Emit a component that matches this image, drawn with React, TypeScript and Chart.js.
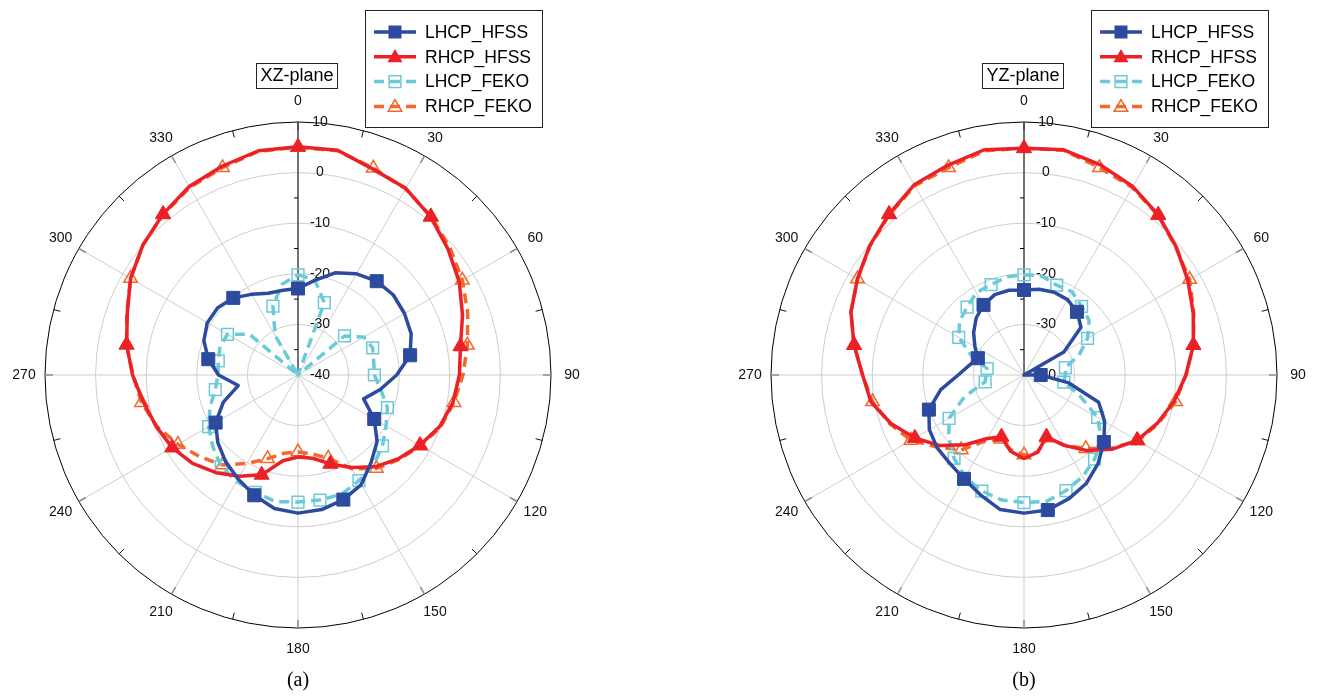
import React, { useEffect, useRef } from 'react';
import { Chart, registerables } from 'chart.js';

Chart.register(...registerables);

// Angular positions of the samples (degrees, clockwise from top)
const angleLabels = [
  0, 10, 20, 30, 40, 50, 60, 70, 80, 90, 100, 110,
  120, 130, 140, 150, 160, 170, 180, 190, 200, 210, 220, 230,
  240, 250, 260, 270, 280, 290, 300, 310, 320, 330, 340, 350,
];

// Angle ticks printed around the rim, and radial ticks (dB)
const angleTickLabels = [0, 30, 60, 90, 120, 150, 180, 210, 240, 270, 300, 330];
const radialTicks = [10, 0, -10, -20, -30, -40];

// XZ-plane gain (dB)
const xzLhcpHfss = [
  -22.9, -21, -18.5, -16.9, -15.8, -15.4, -15.7, -16.2, -17.5, -20.5, -23.5, -26.2,
  -22.6, -19.6, -17.5, -15, -13.8, -13, -12.7, -13.2, -14.7, -16.3, -17.7, -19.3,
  -21.2, -24.3, -28, -24.3, -22, -20.2, -19.3, -19.3, -20.1, -21.6, -22.8, -23,
];
const xzRhcpHfss = [
  5.1, 5.1, 3.3, 2.6, 0.8, -1.3, -3.2, -5.4, -7.4, -8.1, -8.9, -10.2,
  -12.2, -14.2, -16.3, -18.9, -21.3, -23.3, -23.8, -22.8, -19, -16.9, -14.8, -12.8,
  -11.3, -10.2, -9, -7.3, -5.6, -4.1, -1.8, 0, 1.5, 3, 3.9, 5,
];
const xzLhcpFeko = [
  -20.2, -20.9, -24.8, -40, -40, -28, -25, -24.3, -24.8, -24.9, -23.4, -21.2,
  -19.9, -18.2, -16.8, -15.9, -14.9, -14.9, -14.9, -14.6, -15.3, -15.7, -16.4, -18,
  -19.6, -21.5, -23.4, -24.2, -24, -23.6, -23.9, -27.5, -40, -31, -25.5, -21.8,
];
const xzRhcpFeko = [
  5, 5, 3.5, 2.5, 0.9, -0.8, -2.5, -4.3, -6, -7.4, -8.7, -10,
  -12, -14, -15.9, -18.6, -22.5, -24.2, -24.8, -24.3, -22.4, -19.8, -16.8, -14.8,
  -12.6, -10.3, -8.6, -7.4, -5.6, -4, -1.8, 0, 1.4, 2.8, 3.6, 4.9,
];

// YZ-plane gain (dB)
const yzLhcpHfss = [
  -23.2, -22.8, -22.6, -22.8, -23.7, -25.3, -30.9, -40, -40, -36.7, -31, -24.3,
  -21.6, -19.4, -17.2, -15.3, -14, -12.9, -12.7, -13, -14.8, -16.3, -17.2, -17.6,
  -18.4, -20, -23.3, -27, -29, -30.3, -28.8, -27, -25.3, -24, -23.1, -23,
];
const yzRhcpHfss = [
  4.8, 5.2, 4.2, 3, 1.3, -0.7, -2.6, -4.4, -6, -8, -9.9, -12,
  -14.2, -17.2, -20.5, -23.9, -27, -24.5, -23.5, -24.7, -27, -25.5, -22, -18.3,
  -15.1, -12, -9.3, -8.1, -5.9, -3.6, -2, -0.2, 1.5, 3.4, 4.1, 5.2,
];
const yzLhcpFeko = [
  -20.2, -20.1, -21.1, -21, -22.3, -23.2, -25.5, -28.4, -31.7, -31.8, -32, -28.4,
  -23.2, -20, -18.3, -16.8, -15.7, -14.6, -14.8, -14.9, -15.6, -16.7, -18.5, -20.6,
  -22.9, -27.5, -32.2, -32.5, -32.6, -29, -25.1, -23.4, -22.5, -21.2, -21, -20.3,
];
const yzRhcpFeko = [
  4.8, 5.1, 3.6, 2.8, 1.2, -0.8, -2.2, -4.3, -6, -8, -9.6, -11.8,
  -14, -17.5, -21, -24, -26.8, -24.5, -24.2, -25, -26.5, -25, -20.7, -17.8,
  -14.2, -11.8, -9.6, -8.1, -5.9, -3.6, -2, -0.3, 1.4, 3.2, 3.6, 5,
];

// Angles carrying a marker symbol, per trace
const xzMarksLhcpHfss = [0, 40, 80, 120, 160, 200, 240, 280, 320];
const xzMarksRhcpHfss = [0, 40, 80, 120, 160, 200, 240, 280, 320];
const xzMarksLhcpFeko = [0, 20, 50, 70, 90, 110, 130, 150, 170, 180, 200, 220, 240, 260, 280, 300, 340];
const xzMarksRhcpFeko = [0, 20, 40, 60, 80, 100, 120, 140, 160, 180, 200, 220, 240, 260, 280, 300, 320, 340];
const yzMarksLhcpHfss = [0, 40, 90, 130, 170, 210, 250, 290, 330];
const yzMarksRhcpHfss = [0, 40, 80, 120, 160, 200, 240, 280, 320];
const yzMarksLhcpFeko = [0, 20, 40, 60, 80, 100, 120, 140, 160, 180, 200, 220, 240, 260, 280, 300, 320, 340];
const yzMarksRhcpFeko = [0, 20, 40, 60, 80, 100, 120, 140, 160, 180, 200, 220, 240, 260, 280, 300, 320, 340];

const seriesNames = ['LHCP_HFSS', 'RHCP_HFSS', 'LHCP_FEKO', 'RHCP_FEKO'];

const BLUE = '#2c4a9e';
const RED = '#ec2027';
const CYAN = '#6ccad8';
const ORANGE = '#f2682a';
const SANS = '"Liberation Sans", Arial, sans-serif';

const CANVAS_W = 595;
const CANVAS_H = 696;

type Series = {
  data: number[][];
  marks: number[][];
};

function markerRadius(list: number[], r: number) {
  return (c: any) => (list.includes(angleLabels[c.dataIndex]) ? r : 0);
}

function buildDatasets(s: Series) {
  const [lh, rh, lf, rf] = s.data;
  const [mlh, mrh, mlf, mrf] = s.marks;
  return [
    {
      label: seriesNames[0], data: lh, borderColor: BLUE, backgroundColor: BLUE,
      borderWidth: 3.5, borderJoinStyle: 'round', pointStyle: 'rect',
      pointRadius: markerRadius(mlh, 9.2), pointBackgroundColor: BLUE,
      pointBorderColor: BLUE, pointBorderWidth: 1, fill: false, tension: 0,
    },
    {
      label: seriesNames[1], data: rh, borderColor: RED, backgroundColor: RED,
      borderWidth: 3.5, borderJoinStyle: 'round', pointStyle: 'triangle',
      pointRadius: markerRadius(mrh, 8.7), pointBackgroundColor: RED,
      pointBorderColor: RED, pointBorderWidth: 1, fill: false, tension: 0,
    },
    {
      label: seriesNames[2], data: lf, borderColor: CYAN, backgroundColor: 'rgba(0,0,0,0)',
      borderWidth: 3.5, borderDash: [10, 6], borderJoinStyle: 'round', pointStyle: 'rect',
      pointRadius: markerRadius(mlf, 8.3), pointBackgroundColor: 'rgba(255,255,255,0)',
      pointBorderColor: CYAN, pointBorderWidth: 1.5, fill: false, tension: 0,
    },
    {
      label: seriesNames[3], data: rf, borderColor: ORANGE, backgroundColor: 'rgba(0,0,0,0)',
      borderWidth: 3.5, borderDash: [10, 6], borderJoinStyle: 'round', pointStyle: 'triangle',
      pointRadius: markerRadius(mrf, 7.8), pointBackgroundColor: 'rgba(255,255,255,0)',
      pointBorderColor: ORANGE, pointBorderWidth: 1.5, fill: false, tension: 0,
    },
  ];
}

function polar(scale: any, deg: number, dist: number) {
  const a = ((deg - 90) * Math.PI) / 180;
  return { x: scale.xCenter + Math.cos(a) * dist, y: scale.yCenter + Math.sin(a) * dist };
}

// Axis decorations drawn underneath the traces
const polarFramePlugin = {
  id: 'polarFrame',
  beforeDatasetsDraw(chart: any) {
    const scale = chart.scales.r;
    const ctx = chart.ctx;
    const cx = scale.xCenter;
    const cy = scale.yCenter;
    const R = scale.drawingArea;
    ctx.save();

    // darker ends of the 30-degree spokes
    ctx.strokeStyle = '#8c8c8c';
    ctx.lineWidth = 1.5;
    angleTickLabels.forEach((a) => {
      const p1 = polar(scale, a, R - 8);
      const p2 = polar(scale, a, R);
      ctx.beginPath();
      ctx.moveTo(p1.x, p1.y);
      ctx.lineTo(p2.x, p2.y);
      ctx.stroke();
    });

    // minor rim ticks halfway between spokes
    ctx.strokeStyle = '#111';
    ctx.lineWidth = 1;
    angleTickLabels.forEach((a) => {
      const p1 = polar(scale, a + 15, R - 7);
      const p2 = polar(scale, a + 15, R);
      ctx.beginPath();
      ctx.moveTo(p1.x, p1.y);
      ctx.lineTo(p2.x, p2.y);
      ctx.stroke();
    });

    // radial axis along 0 degrees
    ctx.strokeStyle = '#000';
    ctx.lineWidth = 1;
    ctx.beginPath();
    ctx.moveTo(cx, cy);
    ctx.lineTo(cx, cy - R);
    ctx.stroke();
    for (let i = 0; i < radialTicks.length - 1; i++) {
      const mid = (radialTicks[i] + radialTicks[i + 1]) / 2;
      const y = cy - scale.getDistanceFromCenterForValue(mid);
      ctx.beginPath();
      ctx.moveTo(cx - 4, y);
      ctx.lineTo(cx, y);
      ctx.stroke();
    }

    // radial tick labels
    ctx.fillStyle = '#111';
    ctx.font = `14px ${SANS}`;
    ctx.textAlign = 'center';
    ctx.textBaseline = 'middle';
    radialTicks.forEach((v) => {
      const y = cy - scale.getDistanceFromCenterForValue(v);
      ctx.fillText(String(v), cx + 22, y);
    });

    // angle labels around the rim
    angleTickLabels.forEach((a) => {
      const p = polar(scale, a, R + 21);
      ctx.fillText(String(a), p.x, p.y);
    });
    ctx.restore();
  },
};

function drawMarker(ctx: CanvasRenderingContext2D, kind: string, x: number, y: number, color: string, filled: boolean) {
  ctx.beginPath();
  if (kind === 'rect') {
    const h = filled ? 6.5 : 5.9;
    ctx.rect(x - h, y - h, 2 * h, 2 * h);
  } else {
    const r = filled ? 8.7 : 7.8;
    ctx.moveTo(x, y - r);
    ctx.lineTo(x + r * 0.866, y + r * 0.5);
    ctx.lineTo(x - r * 0.866, y + r * 0.5);
    ctx.closePath();
  }
  if (filled) {
    ctx.fillStyle = color;
    ctx.fill();
  } else {
    ctx.strokeStyle = color;
    ctx.lineWidth = 1.5;
    ctx.stroke();
  }
}

// Plane tag, legend and caption drawn on top
function makeOverlayPlugin(title: string, caption: string) {
  return {
    id: 'polarOverlay',
    afterDraw(chart: any) {
      const scale = chart.scales.r;
      const ctx = chart.ctx as CanvasRenderingContext2D;
      const cx = scale.xCenter;
      ctx.save();

      // plane tag
      ctx.font = `18px ${SANS}`;
      const tw = ctx.measureText(title).width;
      const bw = tw + 8;
      ctx.fillStyle = '#fff';
      ctx.fillRect(cx - 1 - bw / 2, 63, bw, 25);
      ctx.strokeStyle = '#222';
      ctx.lineWidth = 1;
      ctx.strokeRect(Math.round(cx - 1 - bw / 2) + 0.5, 63.5, Math.round(bw), 25);
      ctx.fillStyle = '#000';
      ctx.textAlign = 'center';
      ctx.textBaseline = 'middle';
      ctx.fillText(title, cx - 1, 76.5);

      // legend
      const lx = cx + 67;
      const ly = 10;
      ctx.fillStyle = '#fff';
      ctx.fillRect(lx, ly, 177, 117);
      ctx.strokeStyle = '#222';
      ctx.strokeRect(Math.round(lx) + 0.5, ly + 0.5, 177, 117);
      const styles = [
        { color: BLUE, dash: [] as number[], kind: 'rect', filled: true, w: 3.5 },
        { color: RED, dash: [] as number[], kind: 'tri', filled: true, w: 3.5 },
        { color: CYAN, dash: [10, 6], kind: 'rect', filled: false, w: 3.5 },
        { color: ORANGE, dash: [10, 6], kind: 'tri', filled: false, w: 3.5 },
      ];
      ctx.font = `17.5px ${SANS}`;
      ctx.textAlign = 'left';
      styles.forEach((s, i) => {
        const y = ly + 22 + i * 24.8;
        ctx.strokeStyle = s.color;
        ctx.lineWidth = s.w;
        ctx.setLineDash(s.dash);
        ctx.beginPath();
        ctx.moveTo(lx + 9, y);
        ctx.lineTo(lx + 51, y);
        ctx.stroke();
        ctx.setLineDash([]);
        drawMarker(ctx, s.kind, lx + 30, s.kind === 'tri' ? y + 1 : y, s.color, s.filled);
        ctx.fillStyle = '#000';
        ctx.fillText(seriesNames[i], lx + 60, y + 1);
      });

      // caption
      ctx.font = `20px "Liberation Serif", "Times New Roman", serif`;
      ctx.textAlign = 'center';
      ctx.fillStyle = '#000';
      ctx.fillText(caption, cx, 681);
      ctx.restore();
    },
  };
}

function PolarPanel({ left, title, caption, series }: { left: number; title: string; caption: string; series: Series }) {
  const ref = useRef<HTMLCanvasElement | null>(null);
  useEffect(() => {
    if (!ref.current) return;
    const chart = new Chart(ref.current, {
      type: 'radar',
      data: { labels: angleLabels.map(String), datasets: buildDatasets(series) as any },
      options: {
        animation: false,
        responsive: false,
        events: [],
        layout: { padding: { left: 45, right: CANVAS_W - 45 - 506, top: 122, bottom: CANVAS_H - 122 - 506 } },
        plugins: { legend: { display: false }, tooltip: { enabled: false }, title: { display: false } },
        scales: {
          r: {
            min: -40,
            max: 10,
            startAngle: 0,
            ticks: { display: false, stepSize: 10 },
            pointLabels: { display: false },
            grid: {
              circular: true,
              color: (c: any) => (c.tick && c.tick.value === 10 ? '#000' : '#cdcdcd'),
              lineWidth: 1,
            },
            angleLines: {
              display: true,
              color: (c: any) => (c.index % 3 === 0 ? '#cdcdcd' : 'rgba(0,0,0,0)'),
              lineWidth: (c: any) => (c.index % 3 === 0 ? 1 : 0),
            },
          },
        },
      } as any,
      plugins: [polarFramePlugin, makeOverlayPlugin(title, caption)],
    });
    return () => chart.destroy();
  }, []);
  return (
    <canvas
      ref={ref}
      width={CANVAS_W}
      height={CANVAS_H}
      style={{ position: 'absolute', left, top: 0, width: CANVAS_W, height: CANVAS_H }}
    />
  );
}

export default function App() {
  const xz: Series = {
    data: [xzLhcpHfss, xzRhcpHfss, xzLhcpFeko, xzRhcpFeko],
    marks: [xzMarksLhcpHfss, xzMarksRhcpHfss, xzMarksLhcpFeko, xzMarksRhcpFeko],
  };
  const yz: Series = {
    data: [yzLhcpHfss, yzRhcpHfss, yzLhcpFeko, yzRhcpFeko],
    marks: [yzMarksLhcpHfss, yzMarksRhcpHfss, yzMarksLhcpFeko, yzMarksRhcpFeko],
  };
  return (
    <div
      style={{
        position: 'fixed', left: 0, top: 0, width: 1320, height: 696,
        background: '#fff', overflow: 'hidden',
      }}
    >
      <PolarPanel left={0} title="XZ-plane" caption="(a)" series={xz} />
      <PolarPanel left={726} title="YZ-plane" caption="(b)" series={yz} />
    </div>
  );
}
